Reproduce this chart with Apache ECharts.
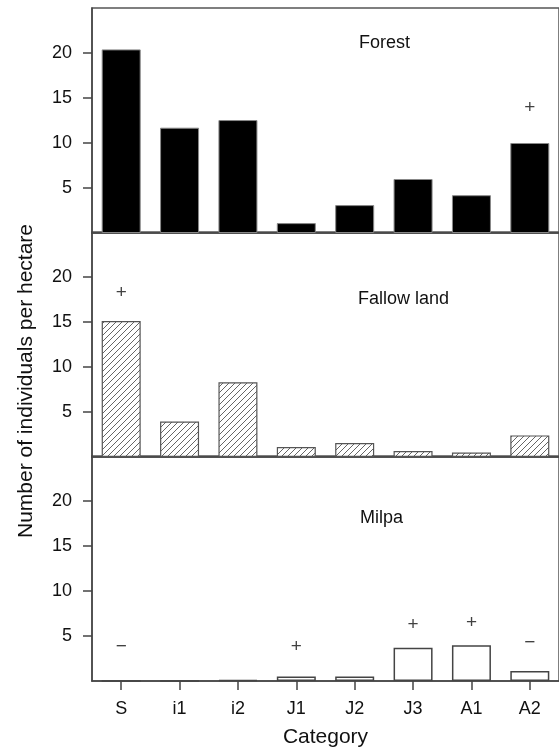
<!DOCTYPE html>
<html>
<head>
<meta charset="utf-8">
<script src="https://cdn.jsdelivr.net/npm/echarts@6/dist/echarts.min.js"></script>
<style>
html, body { margin: 0; padding: 0; background: #fff; }
#main { width: 559px; height: 751px; }
</style>
</head>
<body>
<div id="main"></div>
<script>
var categories = ['S', 'i1', 'i2', 'J1', 'J2', 'J3', 'A1', 'A2'];
var yTicks = [5, 10, 15, 20];

var forest = [20.4, 11.7, 12.55, 1.1, 3.1, 6.0, 4.2, 10.0];
var fallow = [15.1, 3.95, 8.3, 1.1, 1.55, 0.67, 0.5, 2.4];
var milpa  = [0, 0, 0.1, 0.5, 0.5, 3.7, 3.97, 1.1];

var panelNames = ['Forest', 'Fallow land', 'Milpa'];

// significance signs: category, height, sign
var forestSigns = [['A2', 13.9, '+']];
var fallowSigns = [['S', 18.2, '+']];
var milpaSigns  = [['S', 3.8, '\u2212'], ['J1', 3.85, '+'], ['J3', 6.25, '+'], ['A1', 6.5, '+'], ['A2', 4.25, '\u2212']];

var FONT = 'Liberation Sans';
var TEXT = '#111';
var dom = document.getElementById('main');
var myChart = echarts.init(dom, null, { renderer: 'canvas' });

// diagonal hatch tile
var tile = document.createElement('canvas');
tile.width = 6; tile.height = 6;
var ctx = tile.getContext('2d');
ctx.fillStyle = '#fff';
ctx.fillRect(0, 0, 6, 6);
ctx.strokeStyle = '#555';
ctx.lineWidth = 0.9;
ctx.beginPath();
ctx.moveTo(0, 6); ctx.lineTo(6, 0);
ctx.moveTo(-1, 1); ctx.lineTo(1, -1);
ctx.moveTo(5, 7); ctx.lineTo(7, 5);
ctx.stroke();

var grids = [], xAxes = [], yAxes = [], series = [];
var tops = [8, 232, 456];
var bars = [forest, fallow, milpa];
var signs = [forestSigns, fallowSigns, milpaSigns];
var styles = [
    { color: '#000', borderColor: '#888', borderWidth: 1 },
    { color: { image: tile, repeat: 'repeat' }, borderColor: '#555', borderWidth: 1.2 },
    { color: '#fff', borderColor: '#444', borderWidth: 1.5 }
];

for (var i = 0; i < 3; i++) {
    grids.push({
        left: 92, top: tops[i], width: 467, height: 225,
        show: true, borderColor: '#555', borderWidth: 1.5
    });
    var last = i === 2;
    xAxes.push({
        type: 'category', gridIndex: i, data: categories,
        axisLine: { lineStyle: { color: '#444', width: 1.5 } },
        axisTick: { show: last, alignWithLabel: true, length: 9, lineStyle: { color: '#444', width: 1.5 } },
        axisLabel: { show: last, color: TEXT, fontFamily: FONT, fontSize: 18, margin: 19 },
        name: last ? 'Category' : '',
        nameLocation: 'middle', nameGap: 46,
        nameTextStyle: { color: TEXT, fontFamily: FONT, fontSize: 21 }
    });
    yAxes.push({
        type: 'value', gridIndex: i, min: 0, max: 25, interval: 5,
        splitLine: { show: false },
        axisLine: { show: true, lineStyle: { color: '#444', width: 1.5 } },
        axisTick: { show: true, length: 9, customValues: yTicks, lineStyle: { color: '#444', width: 1.5 } },
        axisLabel: { color: TEXT, fontFamily: FONT, fontSize: 18, margin: 20, customValues: yTicks }
    });
    series.push({
        type: 'bar', xAxisIndex: i, yAxisIndex: i,
        data: bars[i], barWidth: 39,
        itemStyle: styles[i],
        silent: true
    });
    series.push({
        type: 'scatter', xAxisIndex: i, yAxisIndex: i,
        symbolSize: 1, itemStyle: { color: 'rgba(0,0,0,0)' },
        data: signs[i].map(function (s) {
            return { value: [s[0], s[1]], label: { formatter: s[2] } };
        }),
        label: {
            show: true, position: 'inside', color: TEXT,
            fontFamily: FONT, fontSize: 19
        },
        silent: true
    });
}

var option = {
    animation: false,
    backgroundColor: '#fff',
    grid: grids,
    xAxis: xAxes,
    yAxis: yAxes,
    series: series,
    graphic: [
        {
            type: 'text', x: 26, y: 381, rotation: Math.PI / 2,
            style: {
                text: 'Number of individuals per hectare',
                fill: TEXT, font: '21px "Liberation Sans"',
                align: 'center', verticalAlign: 'middle'
            }
        },
        { type: 'text', x: 359, y: 43, style: { text: panelNames[0], fill: TEXT, font: '18px "Liberation Sans"', align: 'left', verticalAlign: 'middle' } },
        { type: 'text', x: 358, y: 299, style: { text: panelNames[1], fill: TEXT, font: '18px "Liberation Sans"', align: 'left', verticalAlign: 'middle' } },
        { type: 'text', x: 360, y: 518, style: { text: panelNames[2], fill: TEXT, font: '18px "Liberation Sans"', align: 'left', verticalAlign: 'middle' } }
    ]
};
myChart.setOption(option);
</script>
</body>
</html>
